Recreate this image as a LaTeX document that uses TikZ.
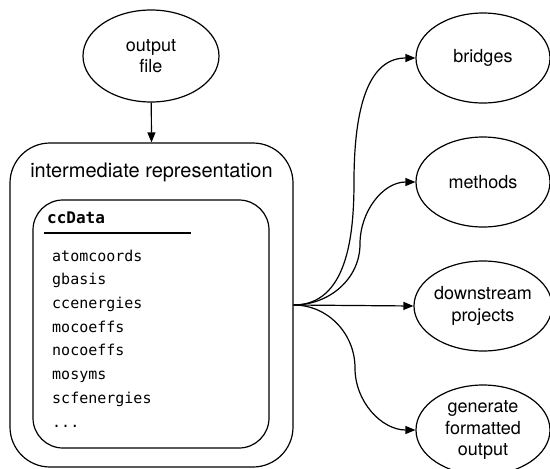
\documentclass[tikz,border=0pt]{standalone}
\usepackage{fontspec}
\setmainfont{TeX Gyre Heros}
\setmonofont{DejaVu Sans Mono}
\usetikzlibrary{shapes.geometric,arrows.meta}
\tikzset{
  lw/.style={line width=1.2pt},
  oval/.style={lw,draw,ellipse,minimum width=134pt,minimum height=90pt,inner sep=0pt,
     align=center,font=\fontsize{18pt}{21.6pt}\selectfont},
  bigbox/.style={lw,draw,rectangle,rounded corners=40pt,minimum width=283pt,minimum height=324pt,inner sep=0pt},
  innerbox/.style={lw,draw,rectangle,rounded corners=30pt,minimum width=236pt,minimum height=248pt,inner sep=0pt},
  item/.style={anchor=base west,inner sep=0pt,font=\fontsize{15pt}{18pt}\ttfamily},
  conn/.style={lw,-{Triangle[length=10pt,width=8pt]}},
}
\begin{document}
\begin{tikzpicture}[x=1pt,y=-1pt]
\useasboundingbox (0,0) rectangle (550,469);
\node[oval,minimum width=136pt,minimum height=92pt] (of) at (151,56) {output\\file};
\node[bigbox] (ir) at (151.5,305) {};
\node[anchor=base,inner sep=0pt,font=\fontsize{20pt}{24pt}\selectfont] (title) at (151.5,177) {intermediate representation};
\node[innerbox] (cc) at (151,324) {};
\node[anchor=base west,inner sep=0pt,font=\fontsize{16pt}{19pt}\ttfamily\bfseries] (ccname) at (47,223) {ccData};
\coordinate (ulA) at (44,233);
\coordinate (ulB) at (191,233);
\draw[lw] (ulA) -- (ulB);
\node[item] (i1) at (52,261) {atomcoords};
\node[item] (i2) at (52,284.7) {gbasis};
\node[item] (i3) at (52,308.4) {ccenergies};
\node[item] (i4) at (52,332) {mocoeffs};
\node[item] (i5) at (52,355.8) {nocoeffs};
\node[item] (i6) at (52,379.5) {mosyms};
\node[item] (i7) at (52,403.2) {scfenergies};
\node[item] (i8) at (52,427) {...};
\node[oval] (br) at (483,58) {bridges};
\node[oval] (me) at (483,182) {methods};
\node[oval] (ds) at (483,306) {downstream\\projects};
\node[oval] (gf) at (483,430) {generate\\formatted\\output};
\draw[conn] (of) -- (ir.north);
\coordinate (src) at (ir.east);
\coordinate (mb) at (354,182);
\coordinate (mm) at (360,244);
\coordinate (mg) at (355,368);
\draw[conn] (src) to[out=0,in=-90] (mb) to[out=90,in=180] (br.west);
\draw[conn] (src) to[out=0,in=-90] (mm) to[out=90,in=180] (me.west);
\draw[conn] (src) -- (ds.west);
\draw[conn] (src) to[out=0,in=90] (mg) to[out=-90,in=180] (gf.west);
\end{tikzpicture}
\end{document}
